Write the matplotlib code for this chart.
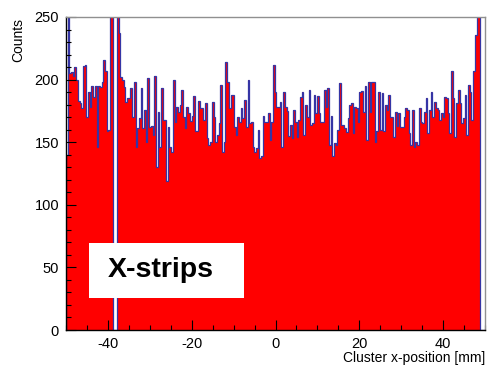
import numpy as np
import matplotlib
matplotlib.use("Agg")
import matplotlib.pyplot as plt
from matplotlib.ticker import MultipleLocator

plt.rcParams['font.family'] = ['Liberation Sans', 'DejaVu Sans']
plt.rcParams['axes.unicode_minus'] = False

# ---- data (counts per 0.4 mm bin, left to right) ----
x_min, x_max = -50.0, 50.0
counts_a = [140, 270, 205, 206, 203, 210, 200, 183, 181, 177, 211, 212, 170, 190,
            178, 195, 186, 195, 146, 195, 194, 198, 216, 207, 159, 160, 300, 300,
            0, 0, 290, 237, 202, 200, 194, 182, 185, 185, 193, 170, 198, 146,
            161, 169, 193, 161, 176, 150, 201]
counts_b = [162, 163, 156, 203, 130, 174, 146, 193, 168, 168, 119, 162, 146, 142,
            200, 166, 178, 174, 180, 192, 170, 161, 178, 173, 167, 171, 187, 159,
            159, 183, 177, 177, 168, 181, 153, 148, 150, 182, 170, 150, 156, 165,
            196, 142, 150, 214, 198, 177, 188]
counts_c = [188, 162, 156, 170, 166, 177, 169, 184, 162, 200, 165, 166, 146, 142,
            145, 160, 137, 139, 171, 166, 166, 173, 152, 166, 212, 190, 178, 178,
            182, 146, 190, 178, 175, 155, 164, 153, 176, 166, 154, 168, 186, 190,
            156, 180, 170, 192, 164, 165, 188, 173]
counts_d = [187, 173, 166, 166, 192, 178, 193, 148, 171, 139, 149, 148, 160, 197,
            164, 164, 161, 158, 169, 180, 181, 157, 178, 177, 166, 190, 191, 174,
            195, 152, 198, 174, 198, 198, 150, 159, 190, 160, 189, 159, 180, 176,
            188, 170, 170, 154, 174, 163, 173, 162]
counts_e = [162, 170, 177, 176, 157, 148, 176, 146, 150, 148, 177, 166, 165, 174,
            185, 157, 176, 190, 170, 182, 177, 176, 168, 173, 170, 186, 185, 173,
            157, 207, 185, 154, 181, 192, 181, 165, 169, 188, 156, 196, 190, 168,
            207, 236, 262, 265, 0, 0, 0]
counts = np.array(counts_a + counts_b + counts_c + counts_d + counts_e, dtype=float)
edges = np.linspace(x_min, x_max, len(counts) + 1)

y_max = 250
x_ticks = [-40, -20, 0, 20, 40]
y_ticks = [0, 50, 100, 150, 200, 250]
x_title = "Cluster x-position [mm]"
y_title = "Counts"
box_label = "X-strips"

# ---- figure (ROOT-like look) ----
fig = plt.figure(figsize=(4.87, 3.68), dpi=100)
ax = fig.add_axes([66 / 487, 1 - 330 / 368, 419 / 487, 313 / 368])

ax.stairs(counts, edges, fill=True, color="#ff0000", linewidth=0)
ax.stairs(counts, edges, color="#3535a5", linewidth=0.9)

ax.set_xlim(x_min, x_max)
ax.set_ylim(0, y_max)
ax.set_xticks(x_ticks)
ax.set_yticks(y_ticks)
ax.xaxis.set_minor_locator(MultipleLocator(5))
ax.yaxis.set_minor_locator(MultipleLocator(10))
ax.tick_params(which="both", direction="in", top=False, right=False,
               labelsize=10.5, colors="black")
ax.tick_params(which="major", length=7, width=0.8)
ax.tick_params(which="minor", length=3.6, width=0.8)
ax.tick_params(axis="x", pad=5)
ax.tick_params(axis="y", pad=5)

for s in ["left", "bottom"]:
    ax.spines[s].set_color("black")
    ax.spines[s].set_linewidth(1.0)
for s in ["top", "right"]:
    ax.spines[s].set_color("#909090")
    ax.spines[s].set_linewidth(1.0)

fig.text(485 / 487, 1 - 358 / 368, x_title, ha="right", va="center", fontsize=10)
fig.text(18 / 487, 1 - 18 / 368, y_title, ha="center", va="top",
         rotation=90, fontsize=10)

# white label box
fig.patches.append(plt.Rectangle((89 / 487, 1 - 298 / 368), 155 / 487, 55 / 368,
                                 transform=fig.transFigure, facecolor="white",
                                 edgecolor="none", zorder=5))
fig.text(108 / 487, 1 - 270 / 368, box_label, ha="left", va="center",
         fontsize=20.5, fontweight="bold", zorder=6)

fig.savefig("out.png", dpi=100)
